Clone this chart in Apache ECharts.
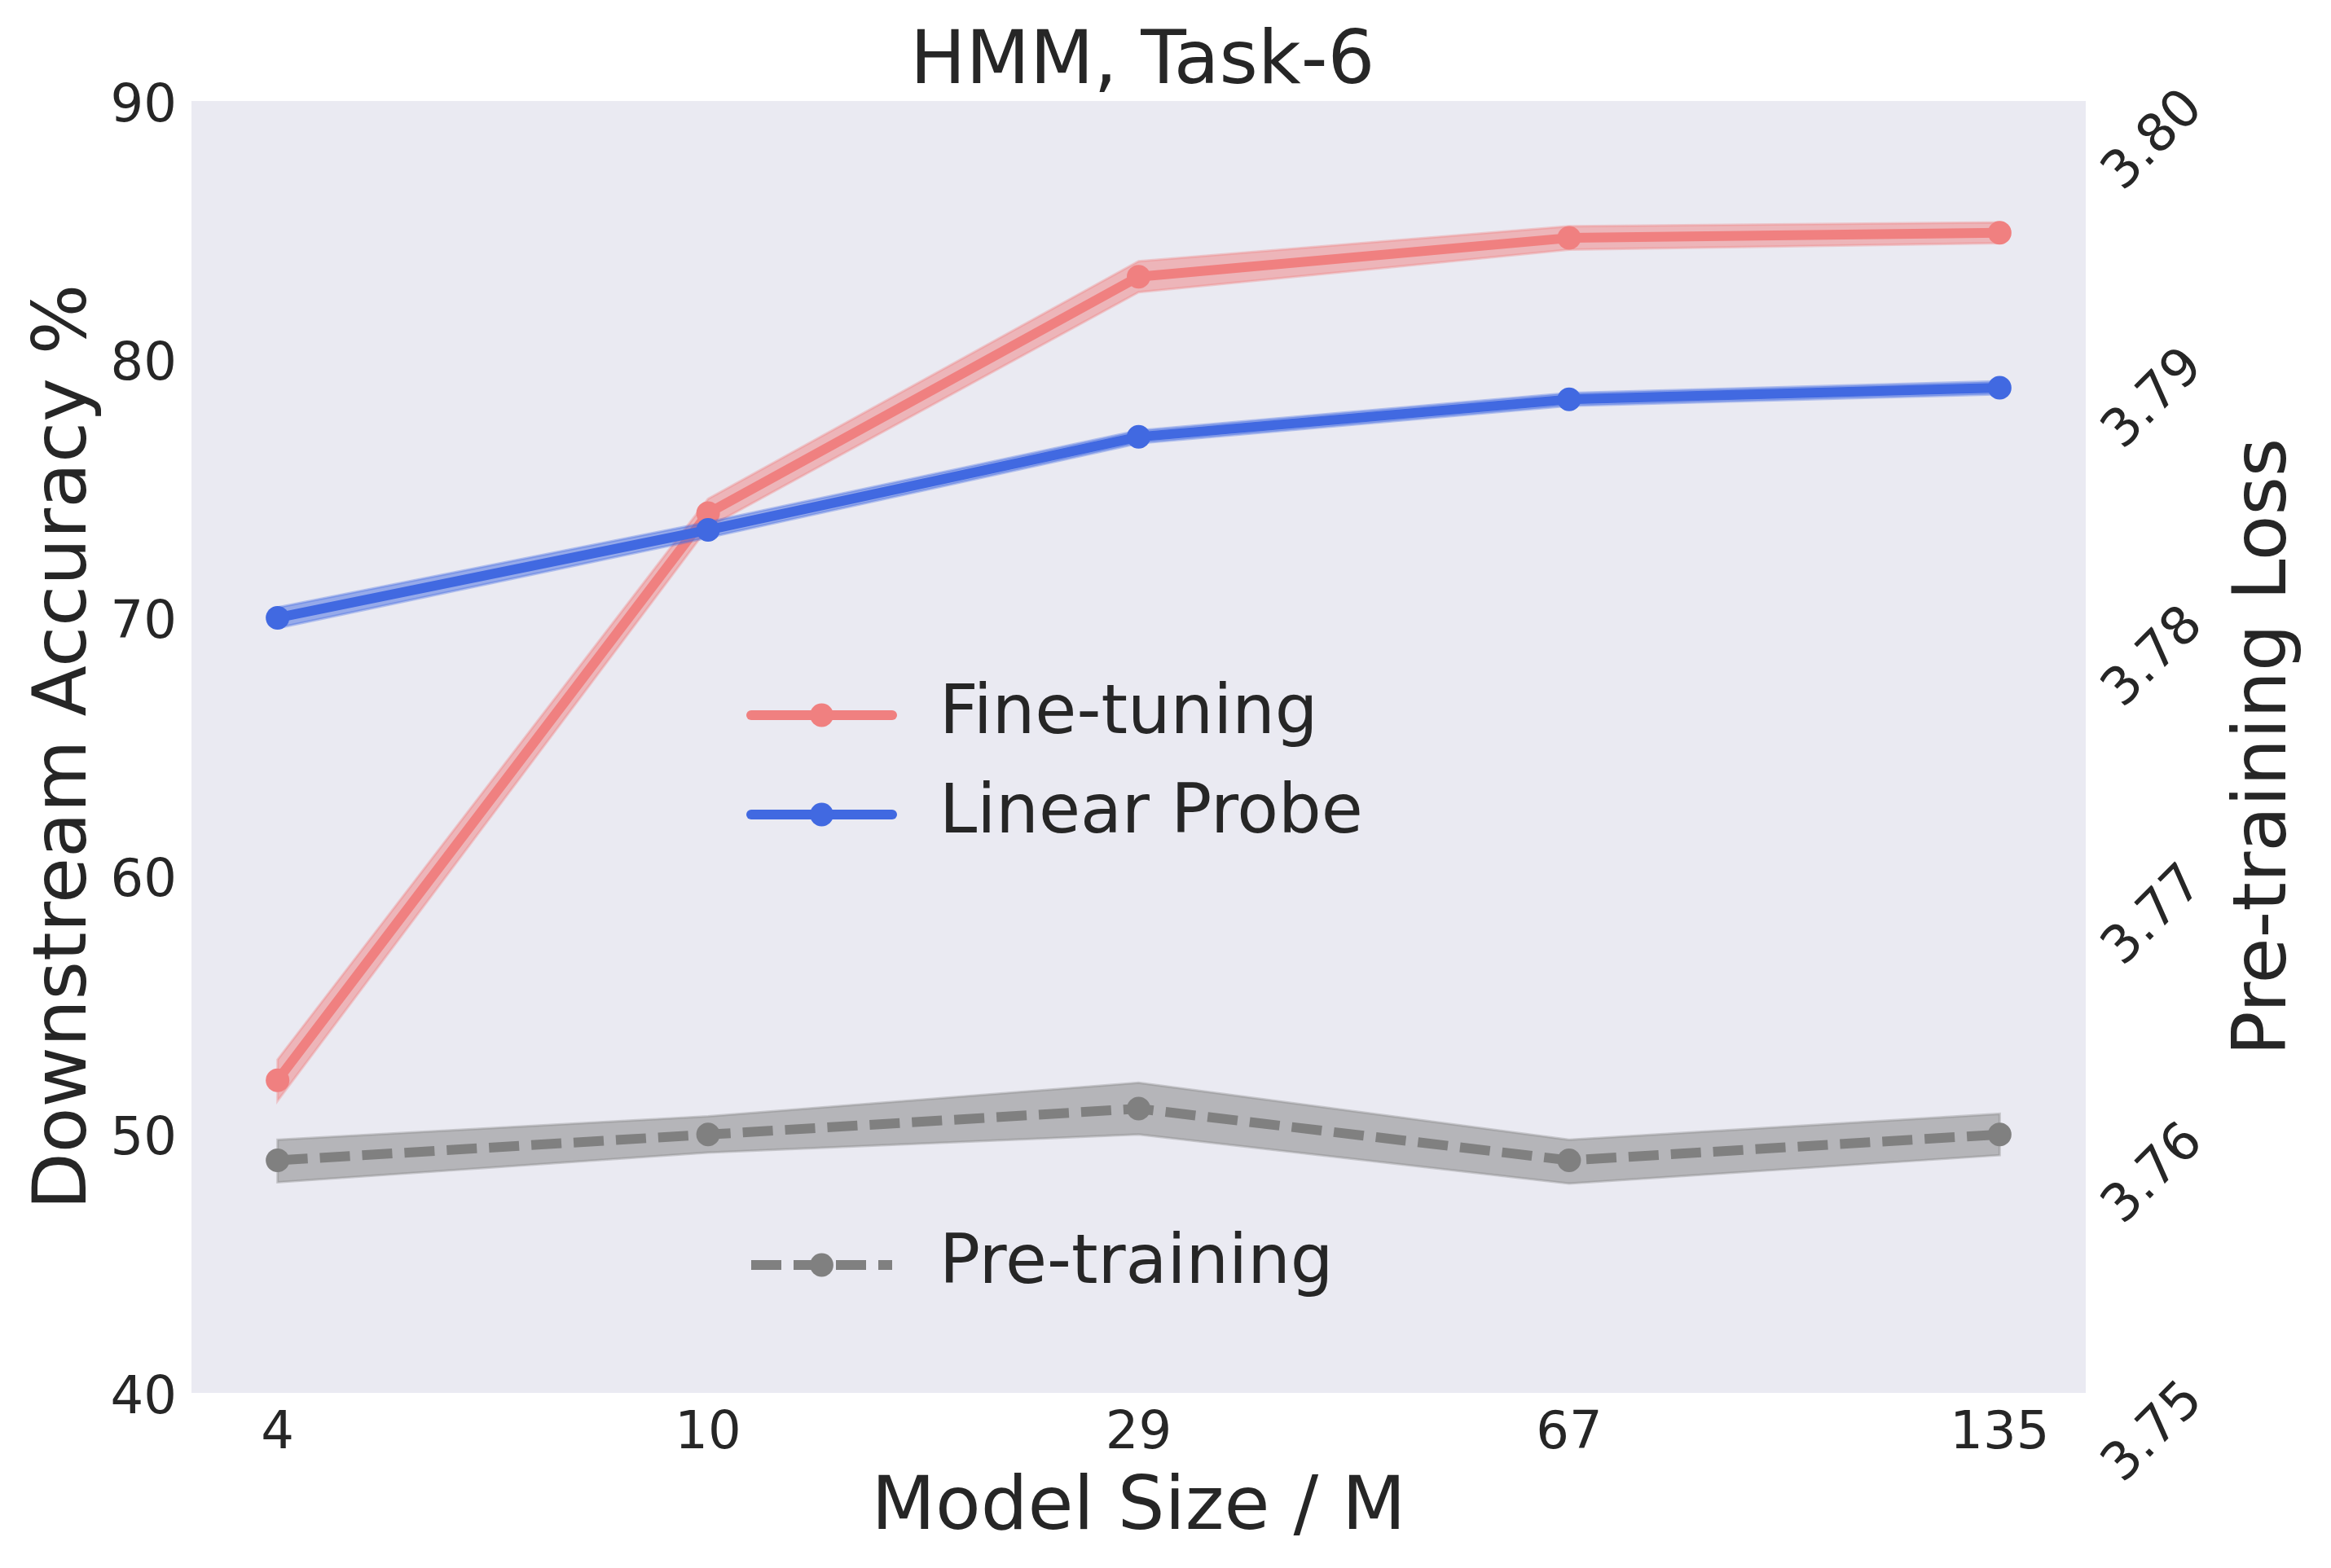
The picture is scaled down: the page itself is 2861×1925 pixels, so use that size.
<!DOCTYPE html>
<html>
<head>
<meta charset="utf-8">
<script src="https://cdn.jsdelivr.net/npm/echarts@6/dist/echarts.min.js"></script>
<style>
  html, body { margin: 0; padding: 0; background: #fff; }
  #chart { width: 2861px; height: 1925px; }
</style>
</head>
<body>
<div id="chart"></div>
<script>
// model sizes (M) on the x axis, drawn at index positions
const sizes = ['4', '10', '29', '67', '135'];
const xIdx = [0, 1, 2, 3, 4];

// downstream accuracy %, left axis
const fineTuning = [52.1, 74.05, 83.2, 84.7, 84.9];
const fineLo = [51.3, 73.5, 82.6, 84.25, 84.5];
const fineHi = [52.9, 74.6, 83.8, 85.15, 85.3];

const linearProbe = [70.0, 73.4, 77.0, 78.45, 78.9];
const linearLo = [69.6, 73.1, 76.75, 78.2, 78.65];
const linearHi = [70.4, 73.7, 77.25, 78.7, 79.15];

// pre-training loss, right axis
const pretrainLoss = [3.7590, 3.7600, 3.7610, 3.7590, 3.7600];
const pretrainLo = [3.75815, 3.7593, 3.7600, 3.7581, 3.7592];
const pretrainHi = [3.7598, 3.7607, 3.7620, 3.7598, 3.7608];

const leftTicks = [40, 50, 60, 70, 80, 90];
const rightTicks = [3.75, 3.76, 3.77, 3.78, 3.79, 3.80];

const FONT = 'DejaVu Sans';
const TEXT = '#262626';
const RED = '#F08080';
const BLUE = '#4169E1';
const GRAY = '#808080';

function rgba(hex, a) {
  const n = parseInt(hex.slice(1), 16);
  return `rgba(${(n >> 16) & 255},${(n >> 8) & 255},${n & 255},${a})`;
}

// shaded band between lo and hi, one polygon through the axis scales
function bandSeries(lo, hi, color, yAxisIndex, z) {
  return {
    type: 'custom',
    yAxisIndex,
    silent: true,
    z,
    data: xIdx.map((x, i) => [x, lo[i], hi[i]]),
    encode: { x: 0, y: [1, 2] },
    renderItem: (params, api) => {
      if (params.dataIndex !== 0) return null;
      const top = xIdx.map((x, i) => api.coord([x, hi[i]]));
      const bot = xIdx.map((x, i) => api.coord([x, lo[i]])).reverse();
      return {
        type: 'polygon',
        shape: { points: top.concat(bot) },
        style: { fill: rgba(color, 0.5), stroke: rgba(color, 0.35), lineWidth: 3 }
      };
    }
  };
}

function lineSeries(name, values, color, yAxisIndex, z, dashed) {
  return {
    name,
    type: 'line',
    yAxisIndex,
    z,
    data: xIdx.map((x, i) => [x, values[i]]),
    symbol: 'circle',
    symbolSize: 29,
    showAllSymbol: true,
    itemStyle: { color },
    lineStyle: { color, width: 12, type: dashed ? [37, 15] : 'solid', cap: dashed ? 'butt' : 'round' },
    emphasis: { disabled: true }
  };
}

const chart = echarts.init(document.getElementById('chart'));

const legendBase = {
  orient: 'vertical',
  left: 911,
  itemWidth: 173,
  itemHeight: 36,
  itemGap: 22,
  selectedMode: false,
  lineStyle: { width: 12 },
  textStyle: { fontFamily: FONT, fontSize: 83, color: TEXT, lineHeight: 100, padding: [0, 0, 0, 53] }
};

chart.setOption({
  animation: false,
  backgroundColor: '#ffffff',
  textStyle: { fontFamily: FONT, color: TEXT },
  title: {
    text: 'HMM, Task-6',
    left: 1112,
    top: 28,
    textStyle: { fontFamily: FONT, fontSize: 91, fontWeight: 'normal', color: TEXT }
  },
  legend: [
    Object.assign({}, legendBase, { data: ['Fine-tuning', 'Linear Probe'], top: 823 }),
    Object.assign({}, legendBase, { data: ['Pre-training'], top: 1498 })
  ],
  grid: {
    left: 235, right: 301, top: 124, bottom: 215,
    show: true, backgroundColor: '#EAEAF2', borderWidth: 0,
    outerBoundsMode: 'none'
  },
  xAxis: {
    type: 'value',
    min: -0.2,
    max: 4.2,
    name: 'Model Size / M',
    nameLocation: 'middle',
    nameGap: 98,
    nameMoveOverlap: false,
    nameTextStyle: { fontFamily: FONT, fontSize: 91, color: TEXT },
    axisLine: { show: false },
    axisTick: { show: false },
    splitLine: { show: false },
    axisLabel: {
      customValues: xIdx,
      formatter: (v) => sizes[Math.round(v)],
      fontFamily: FONT, fontSize: 64, color: TEXT, margin: 19
    }
  },
  yAxis: [
    {
      type: 'value',
      position: 'left',
      min: leftTicks[0],
      max: leftTicks[leftTicks.length - 1],
      interval: 10,
      name: 'Downstream Accuracy %',
      nameLocation: 'middle',
      nameGap: 108,
      nameMoveOverlap: false,
      nameTextStyle: { fontFamily: FONT, fontSize: 91, color: TEXT },
      axisLine: { show: false },
      axisTick: { show: false },
      splitLine: { show: false },
      axisLabel: {
        fontFamily: FONT, fontSize: 64, color: TEXT, margin: 18,
        verticalAlign: 'top', lineHeight: 16
      }
    },
    {
      type: 'value',
      position: 'right',
      min: rightTicks[0],
      max: rightTicks[rightTicks.length - 1],
      interval: 0.01,
      name: 'Pre-training Loss',
      nameLocation: 'middle',
      nameGap: 176,
      nameMoveOverlap: false,
      nameTextStyle: { fontFamily: FONT, fontSize: 91, color: TEXT },
      axisLine: { show: false },
      axisTick: { show: false },
      splitLine: { show: false },
      axisLabel: {
        fontFamily: FONT, fontSize: 64, color: TEXT,
        rotate: 45, margin: 34,
        align: 'center', verticalAlign: 'top',
        lineHeight: 141,
        formatter: (v) => v.toFixed(2)
      }
    }
  ],
  series: [
    bandSeries(fineLo, fineHi, RED, 0, 2),
    lineSeries('Fine-tuning', fineTuning, RED, 0, 3, false),
    bandSeries(linearLo, linearHi, BLUE, 0, 4),
    lineSeries('Linear Probe', linearProbe, BLUE, 0, 5, false),
    bandSeries(pretrainLo, pretrainHi, GRAY, 1, 6),
    lineSeries('Pre-training', pretrainLoss, GRAY, 1, 7, true)
  ]
});
</script>
</body>
</html>
